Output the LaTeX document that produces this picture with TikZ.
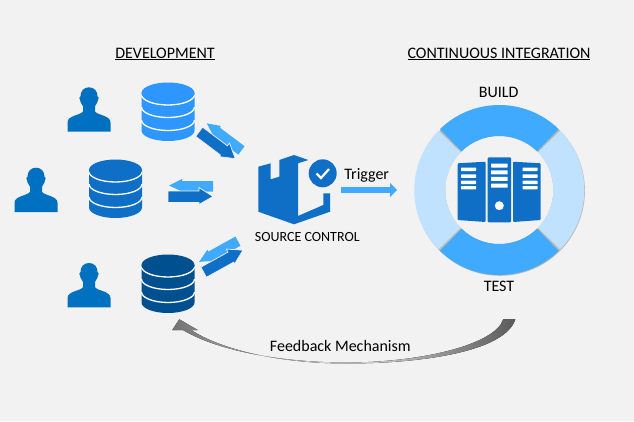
\documentclass[tikz,border=0pt]{standalone}
\usepackage{fontspec}
\setmainfont{Carlito}
\usetikzlibrary{arrows.meta}
\definecolor{bgcol}{HTML}{F2F2F2}
\definecolor{dbLight}{HTML}{2E96FF}
\definecolor{dbMid}{HTML}{0F6FC6}
\definecolor{dbDark}{HTML}{00508F}
\definecolor{peopleCol}{HTML}{0070C0}
\definecolor{arrowLight}{HTML}{40AAFF}
\definecolor{ringLight}{HTML}{C0E2FF}
\definecolor{feedDark}{HTML}{5A5A5A}
\tikzset{
    heading/.style={font=\fontsize{16}{18}\selectfont, text=black, inner sep=0pt},
    caption/.style={font=\fontsize{16}{18}\selectfont, text=black, inner sep=0pt},
    slat/.style={fill=white, rounded corners=0.5pt},
    towerbox/.style={fill=dbMid, rounded corners=1pt},
    dbstack/.pic={
        \fill[#1] (-26.5,0) -- (-26.5,37.5) arc[start angle=180, end angle=0, x radius=26.5, y radius=10.5]
            -- (26.5,0) -- cycle;
        \foreach \off in {1.5,14,27}
            \draw[white, line width=1.3pt] (-26.5,\off) arc[start angle=180, end angle=0, x radius=26.5, y radius=10.5];
        \fill[#1] (0,0) ellipse[x radius=26.5, y radius=10.5];
    },
    person/.pic={
        \fill[peopleCol] (0,0) .. controls (5.5,0) and (8.5,4) .. (8.5,9) -- (9.7,10.5) -- (8.3,15)
            .. controls (7.5,17) and (6,18.5) .. (6,19) -- (6,24)
            .. controls (8,28) and (21.5,28) .. (21.5,35) -- (21.5,44.4) -- (-21.5,44.4) -- (-21.5,35)
            .. controls (-21.5,28) and (-8,28) .. (-6,24) -- (-6,19)
            .. controls (-6,18.5) and (-7.5,17) .. (-8.3,15) -- (-9.7,10.5) -- (-8.5,9)
            .. controls (-8.5,4) and (-5.5,0) .. (0,0) -- cycle;
    },
    arrowpair/.pic={
        \fill[arrowLight] (-22,-5.5) -- (-9,-12) -- (-9,-10) -- (22,-10) -- (22,0.5) -- (-9,0.5) -- cycle;
        \draw[bgcol, line width=0.7pt, fill=dbMid] (-23,0) -- (8,0) -- (8,-3.5) -- (22,5.5) -- (8,13.5)
            -- (8,11.5) -- (-23,11.5) -- cycle;
    },
}
\begin{document}
\begin{tikzpicture}[x=1pt, y=-1pt, >=Stealth]
    \useasboundingbox[fill=bgcol] (0,0) rectangle (634,421);

    % headings
    \node[heading] (devTitle) at (165,54) {\underline{DEVELOPMENT}};
    \node[heading] (ciTitle) at (499,54) {\underline{CONTINUOUS INTEGRATION}};

    % people
    \pic at (89,87.3) {person};
    \pic at (36,167.7) {person};
    \pic at (89,263) {person};

    % databases
    \pic at (168,93) {dbstack=dbLight};
    \pic at (115.5,170) {dbstack=dbMid};
    \pic at (168,265) {dbstack=dbDark};

    % push and pull arrows
    \pic[rotate=-37] at (221,141) {arrowpair};
    \pic at (191,191) {arrowpair};
    \pic[rotate=29] at (221,256) {arrowpair};

    % source control box
    \fill[dbMid] (258.3,166.7) -- (270.7,163.3) -- (270.7,179.3) -- (279.3,176.7) -- (279.3,160)
        -- (294,155) -- (308.3,160) -- (298,163.3) -- (298,216) -- (323.3,205) -- (323.3,193.3)
        -- (330,193.3) -- (330,211.7) -- (294,224.3) -- (258.3,211.7) -- cycle;
    \fill[dbMid] (322.7,173.3) circle[radius=14];
    \draw[white, line width=2.2pt] (316.5,173.5) -- (321,178) -- (329,169);
    \node[caption, font=\fontsize{14}{16}\selectfont] (srcLabel) at (307.3,237.3) {SOURCE CONTROL};

    % trigger
    \node[caption] (triggerLabel) at (366.7,175.7) {Trigger};
    \coordinate (triggerStart) at (341,190);
    \coordinate (triggerEnd) at (397,190);
    \draw[arrowLight, line width=6.5pt, -{Triangle[length=7pt, width=14pt]}] (triggerStart) -- (triggerEnd);

    % ring
    \coordinate (ringC) at (499.3,190);
    \fill[gray!55] (ringC) ++(0.6,0.8) circle[radius=85];
    \fill[bgcol] (ringC) circle[radius=54];
    \foreach \ang/\col in {135/ringLight, -45/ringLight, 45/arrowLight, 225/arrowLight}
        \fill[\col, shift={(ringC)}] (\ang+0.7:85) arc[start angle=\ang+0.7, end angle=\ang+89.3, radius=85]
            -- (\ang+89.3:54) arc[start angle=\ang+89.3, end angle=\ang+0.7, radius=54] -- cycle;

    % ring labels
    \node[caption] (buildLabel) at (498.7,92) {BUILD};
    \node[caption] (testLabel) at (499,286.7) {TEST};

    % server towers
    \fill[towerbox] (487.7,157.3) rectangle (511,222.3);
    \fill[towerbox] (457.7,163.3) -- (485.7,161.7) -- (485.7,222) -- (457.7,220) -- cycle;
    \fill[towerbox] (513,161.7) -- (540.7,163.3) -- (540.7,220) -- (513,222) -- cycle;
    \foreach \y in {163.5,170.4,176.9,183.7}
        \fill[slat] (491,\y) rectangle (507.7,\y+4);
    \foreach \y in {167.7,174.4,180.6,186} {
        \fill[slat] (461,\y) rectangle (476,\y+3.4);
        \fill[slat] (522.5,\y) rectangle (537.5,\y+3.4);
    }
    \fill[white] (499.3,205.7) circle[radius=4.5];

    % feedback arrow
    \fill[left color=feedDark!85!white, right color=feedDark, middle color=bgcol!92!black]
        (515.3,319.3) .. controls (505,352) and (420,363.5) .. (346.7,363.5)
        .. controls (280,363.5) and (222,350) .. (191,330) -- (197.7,330) -- (179.3,319.3) -- (172.3,330)
        -- (183,330) .. controls (220,352) and (285,362.5) .. (346.7,362.5)
        .. controls (420,362.5) and (495,345) .. (503.3,319.3) -- cycle;
    \node[caption] (feedbackLabel) at (340.3,346) {Feedback Mechanism};
\end{tikzpicture}
\end{document}
